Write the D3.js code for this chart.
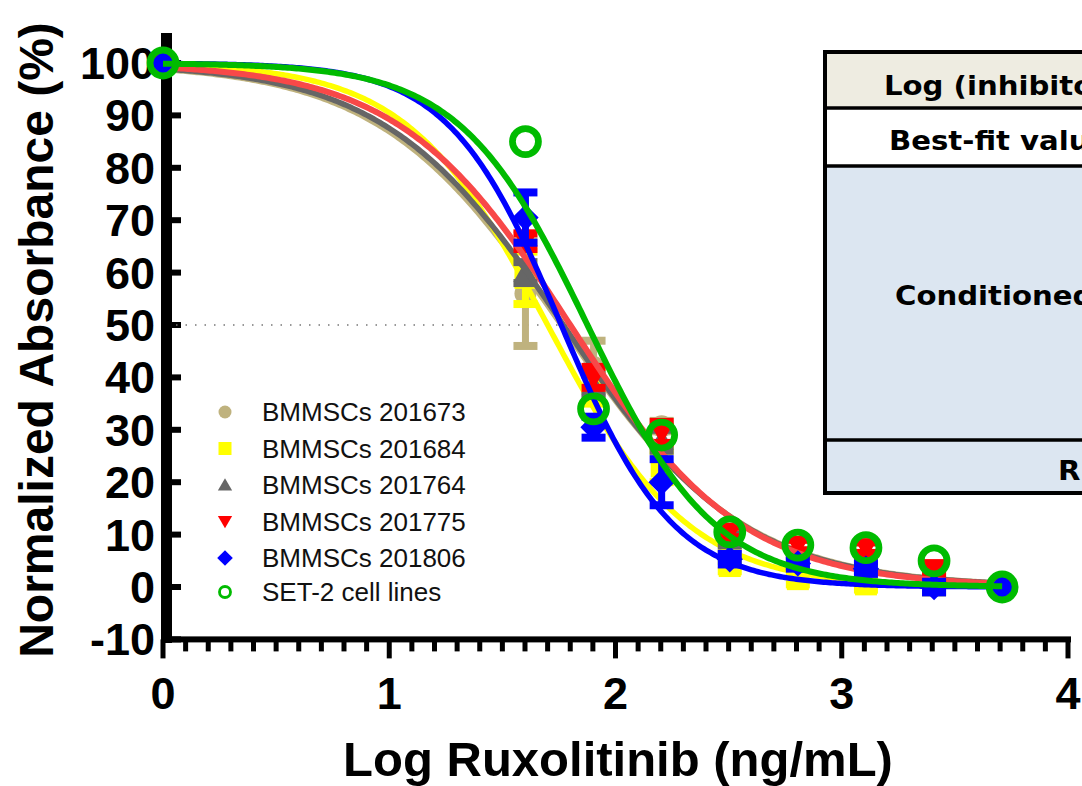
<!DOCTYPE html>
<html>
<head>
<meta charset="utf-8">
<script src="https://d3js.org/d3.v7.min.js"></script>
<style>
body { margin: 0; background: #fff; }
svg { display: block; }
</style>
</head>
<body>
<div id="chart"></div>
<script>
var width = 1082;
var height = 786;

// log10 of ruxolitinib dose (ng/mL), 0 = control
var logDose = [0, 1.602, 1.903, 2.204, 2.505, 2.806, 3.107, 3.408, 3.709];

var seriesNames = ["BMMSCs 201673", "BMMSCs 201684", "BMMSCs 201764", "BMMSCs 201775", "BMMSCs 201806", "SET-2 cell lines"];

// mean normalized absorbance (%)
var bm201673 = [100, 56, 42, 30.7, 8, 6, 4, 3, 0];
var bm201684 = [100, 59, 38, 23, 4, 1.5, 0.5, 1.5, 0];
var bm201764 = [100, 60, 38.5, 28, 9, 5, 4, 0, 0];
var bm201775 = [100, 66, 40, 29.5, 10.5, 8, 7.5, 3.5, 0];
var bm201806 = [100, 70.5, 30.5, 20, 5.3, 4.5, 3.5, 0, 0];
var set2 = [100, 85, 34, 29, 10.5, 8, 7.5, 5, 0];

// error (SD)
var sd201673 = [0, 10, 5, 1, 1.5, 1, 1, 1, 0];
var sd201684 = [0, 5, 3, 3, 1, 1, 1, 1, 0];
var sd201764 = [0, 2, 2, 2, 1, 1, 1, 1, 0];
var sd201775 = [0, 1.5, 2, 2, 1, 1, 1, 1, 0];
var sd201806 = [0, 4.8, 2, 4.4, 1, 1, 1, 1, 0];
var sdSet2 = [0, 0, 0, 0, 0, 0, 0, 0, 0];

// fitted log(inhibitor) vs normalized response, variable slope
var fitLogIC50 = [1.76, 1.70, 1.77, 1.80, 1.76, 1.876];
var fitHill = [1.08, 1.4, 1.1, 1.15, 1.75, 1.54];

var seriesColors = ["#BFB27E", "#FFFF00", "#666666", "#FF0000", "#0000FF", "#00BB00"];
var curveColors = ["#BFB27E", "#FFFF00", "#666666", "#F84848", "#0000FF", "#00BB00"];
var markerTypes = ["circle", "square", "triangle", "triangleDown", "diamond", "ring"];

var xTicks = [0, 1, 2, 3, 4];
var yTicks = [-10, 0, 10, 20, 30, 40, 50, 60, 70, 80, 90, 100];

var tableRows = ["Log (inhibitor) vs. normalized response -- Variable slope", "Best-fit values", "Conditioned medium", "R squared"];

var allMeans = [bm201673, bm201684, bm201764, bm201775, bm201806, set2];
var allSd = [sd201673, sd201684, sd201764, sd201775, sd201806, sdSet2];

var x = d3.scaleLinear().domain([0, 4]).range([163, 1068]);
var y = d3.scaleLinear().domain([-10, 100]).range([639.4, 63]);

var svg = d3.select("#chart")
	.append("svg")
	.attr("width", width)
	.attr("height", height);

var boldFont = "'Liberation Sans', Arial, sans-serif";

// marker shape path, centred on 0,0
function markerPath(type, r) {
	var p = d3.path();
	if (type == "circle" || type == "ring") {
		p.arc(0, 0, r, 0, 2 * Math.PI);
	} else if (type == "square") {
		p.rect(-r, -r, 2 * r, 2 * r);
	} else if (type == "triangle") {
		p.moveTo(0, -r * 1.05); p.lineTo(r * 1.1, r * 0.85); p.lineTo(-r * 1.1, r * 0.85); p.closePath();
	} else if (type == "triangleDown") {
		p.moveTo(0, r * 1.05); p.lineTo(r * 1.1, -r * 0.85); p.lineTo(-r * 1.1, -r * 0.85); p.closePath();
	} else if (type == "diamond") {
		p.moveTo(0, -r * 1.2); p.lineTo(r * 1.2, 0); p.lineTo(0, r * 1.2); p.lineTo(-r * 1.2, 0); p.closePath();
	}
	return p.toString();
}

function drawMarker(g, type, color, r) {
	if (type == "ring") {
		g.append("path").attr("d", markerPath(type, r))
			.attr("fill", "none").attr("stroke", color).attr("stroke-width", r * 0.52);
	} else {
		g.append("path").attr("d", markerPath(type, r)).attr("fill", color);
	}
}

// axes
var gAxis = svg.append("g");
gAxis.append("rect").attr("x", 161).attr("y", 33).attr("width", 11).attr("height", 610).attr("fill", "#000");
gAxis.append("rect").attr("x", 161).attr("y", y(-10) - 3).attr("width", x(4) - 161 + 3).attr("height", 6).attr("fill", "#000");

gAxis.selectAll(".ytick")
	.data(yTicks)
	.enter()
	.append("rect")
	.attr("x", 172)
	.attr("y", function(d) { return y(d) - 3; })
	.attr("width", 9)
	.attr("height", 6)
	.attr("fill", "#000");

var xMinor = d3.range(0, 41).map(function(i) { return i / 10; });
gAxis.selectAll(".xtick")
	.data(xMinor)
	.enter()
	.append("rect")
	.attr("x", function(d) { return x(d) - 2.5; })
	.attr("y", y(-10))
	.attr("width", 5)
	.attr("height", function(d, i) { return i % 10 == 0 ? 19 : 12; })
	.attr("fill", "#000");

gAxis.selectAll(".ylabel")
	.data(yTicks)
	.enter()
	.append("text")
	.attr("x", 155)
	.attr("y", function(d) { return y(d) + 16; })
	.attr("text-anchor", "end")
	.style("font-family", boldFont)
	.style("font-weight", "bold")
	.style("font-size", "45px")
	.text(function(d) { return d; });

gAxis.selectAll(".xlabel")
	.data(xTicks)
	.enter()
	.append("text")
	.attr("x", function(d) { return x(d); })
	.attr("y", 709)
	.attr("text-anchor", "middle")
	.style("font-family", boldFont)
	.style("font-weight", "bold")
	.style("font-size", "45px")
	.text(function(d) { return d; });

svg.append("text")
	.attr("transform", "translate(53,340) rotate(-90)")
	.attr("text-anchor", "middle")
	.style("font-family", boldFont)
	.style("font-weight", "bold")
	.style("font-size", "48px")
	.text("Normalized Absorbance (%)");

svg.append("text")
	.attr("x", 618)
	.attr("y", 776)
	.attr("text-anchor", "middle")
	.style("font-family", boldFont)
	.style("font-weight", "bold")
	.style("font-size", "49px")
	.text("Log Ruxolitinib (ng/mL)");

// dotted 50% line
svg.append("line")
	.attr("x1", 176).attr("x2", x(1.8))
	.attr("y1", y(50)).attr("y2", y(50))
	.attr("stroke", "#777")
	.attr("stroke-width", 1.5)
	.attr("stroke-dasharray", "1.5,8");

// series: error bars, points, fit curve
var curveX = d3.range(0, 3.7091, 0.01);
var line = d3.line()
	.x(function(d) { return x(d[0]); })
	.y(function(d) { return y(d[1]); });

allMeans.forEach(function(means, s) {
	var g = svg.append("g");
	var color = seriesColors[s];
	var sd = allSd[s];

	logDose.forEach(function(xv, i) {
		if (sd[i] > 0) {
			var cx = x(xv);
			g.append("line").attr("x1", cx).attr("x2", cx)
				.attr("y1", y(means[i] + sd[i])).attr("y2", y(means[i] - sd[i]))
				.attr("stroke", color).attr("stroke-width", 7);
			[means[i] + sd[i], means[i] - sd[i]].forEach(function(v) {
				g.append("line").attr("x1", cx - 12).attr("x2", cx + 12)
					.attr("y1", y(v)).attr("y2", y(v))
					.attr("stroke", color).attr("stroke-width", 8);
			});
		}
	});

	logDose.forEach(function(xv, i) {
		var mg = g.append("g").attr("transform", "translate(" + x(xv) + "," + y(means[i]) + ")");
		drawMarker(mg, markerTypes[s], color, markerTypes[s] == "ring" ? 13 : 11);
	});

	var ic = fitLogIC50[s], h = fitHill[s];
	var pts = curveX.map(function(xv) {
		return [xv, 100 / (1 + Math.pow(10, (xv - ic) * h))];
	});
	pts.push([3.709, 100 / (1 + Math.pow(10, (3.709 - ic) * h))]);
	g.append("path")
		.attr("d", line(pts))
		.attr("fill", "none")
		.attr("stroke", curveColors[s])
		.attr("stroke-width", s == 5 || s == 3 ? 6 : 5.5);
});

// legend
var gLegend = svg.append("g");
seriesNames.forEach(function(name, i) {
	var ly = 412 + i * 36.5;
	if (i == 5) ly = 592;
	var mg = gLegend.append("g").attr("transform", "translate(225," + ly + ")");
	drawMarker(mg, markerTypes[i], seriesColors[i], markerTypes[i] == "ring" ? 5.5 : 6.5);
	gLegend.append("text")
		.attr("x", 262)
		.attr("y", ly + 9)
		.style("font-family", "'Liberation Sans', Arial, sans-serif")
		.style("font-size", "26px")
		.attr("fill", "#111")
		.text(name);
});

// results table (clipped by right edge)
var gTable = svg.append("g");
var rowTop = [52, 108, 166, 440];
var rowBottom = [108, 166, 440, 493];
var rowFill = ["#EEECE1", "#FFFFFF", "#DCE6F1", "#DCE6F1"];
var rowTextX = [884, 889, 895, 1058];
var rowTextY = [95, 150, 305, 480];
rowTop.forEach(function(t, i) {
	gTable.append("rect")
		.attr("x", 825).attr("y", t)
		.attr("width", 400).attr("height", rowBottom[i] - t)
		.attr("fill", rowFill[i]);
});
gTable.append("rect")
	.attr("x", 825).attr("y", 52)
	.attr("width", 400).attr("height", 441)
	.attr("fill", "none").attr("stroke", "#000").attr("stroke-width", 4);
[108, 166, 440].forEach(function(t) {
	gTable.append("line").attr("x1", 825).attr("x2", 1225)
		.attr("y1", t).attr("y2", t)
		.attr("stroke", "#000").attr("stroke-width", 3.5);
});
tableRows.forEach(function(txt, i) {
	gTable.append("text")
		.attr("transform", "translate(" + rowTextX[i] + "," + rowTextY[i] + ") scale(1.08,1)")
		.style("font-family", "'DejaVu Sans', sans-serif")
		.style("font-weight", "bold")
		.style("font-size", "27px")
		.text(txt);
});
</script>
</body>
</html>
